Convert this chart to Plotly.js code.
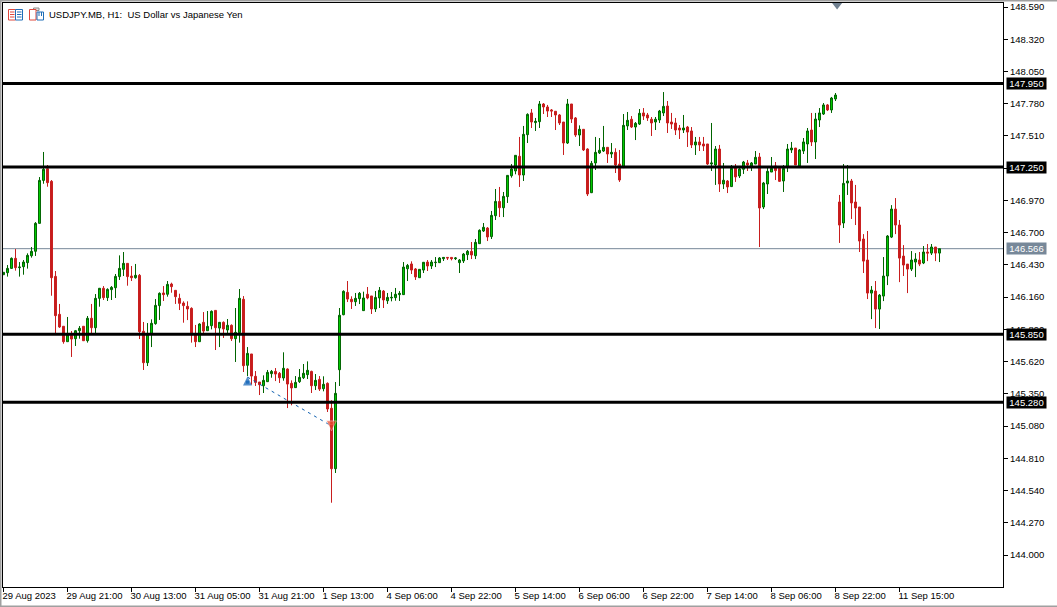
<!DOCTYPE html>
<html><head><meta charset="utf-8">
<script src="https://cdn.plot.ly/plotly-3.0.1.min.js"></script>
<style>html,body{margin:0;padding:0;background:#fff;overflow:hidden}</style>
</head><body><div id="chart" style="width:1057px;height:607px"></div>
<script>
const opens=[146.348,146.365,146.401,146.485,146.407,146.415,146.449,146.507,146.544,146.778,
147.138,147.236,147.130,146.334,146.016,145.916,145.787,145.840,145.812,145.879,
145.916,145.795,145.983,145.904,146.150,146.234,146.156,146.223,146.239,146.332,
146.393,146.443,146.337,146.323,146.343,145.874,145.611,145.851,145.938,146.089,
146.195,146.184,146.270,146.217,146.150,146.111,146.083,146.066,145.843,145.787,
145.949,145.879,145.921,146.049,145.901,145.949,145.885,145.924,145.812,145.862,
146.142,145.589,145.684,145.497,145.449,145.418,145.452,145.519,145.538,145.522,
145.483,145.558,145.438,145.402,145.452,145.485,145.511,145.538,145.418,145.471,
145.393,145.438,145.229,144.723,145.552,146.013,146.200,146.142,146.122,146.147,
146.047,146.184,146.170,146.061,146.153,146.211,146.130,146.153,146.156,146.181,
146.181,146.398,146.438,146.396,146.323,146.387,146.454,146.421,146.449,146.449,
146.482,146.493,146.493,146.482,146.449,146.463,146.516,146.544,146.507,146.608,
146.714,146.739,146.667,146.842,146.962,146.909,147.002,147.177,147.217,147.340,
147.183,147.521,147.703,147.622,147.630,147.778,147.753,147.728,147.717,147.686,
147.627,147.451,147.778,147.661,147.518,147.566,147.401,147.035,147.284,147.368,
147.384,147.415,147.359,147.373,147.275,147.245,147.594,147.650,147.585,147.610,
147.703,147.686,147.650,147.627,147.644,147.703,147.761,147.627,147.619,147.577,
147.560,147.585,147.552,147.435,147.460,147.443,147.443,147.275,147.267,147.401,
147.108,147.133,147.086,147.247,147.175,147.231,147.284,147.259,147.275,147.334,
146.915,147.108,147.208,147.259,147.239,147.133,147.247,147.393,147.409,147.259,
147.384,147.443,147.560,147.460,147.644,147.694,147.770,147.728,147.820,146.957,
146.781,147.116,147.133,146.957,146.915,146.647,146.471,146.194,146.211,146.060,
146.169,146.337,146.663,146.898,146.764,146.504,146.437,146.395,146.454,146.471,
146.446,146.538,146.529,146.580,146.529];
const highs=[146.368,146.429,146.493,146.563,146.454,146.471,146.527,146.580,146.789,147.166,
147.376,147.267,147.141,146.379,146.103,145.916,145.994,145.876,145.885,145.918,
145.916,146.002,146.103,146.186,146.237,146.253,146.234,146.253,146.354,146.510,
146.538,146.443,146.421,146.438,146.354,145.952,145.943,145.974,146.144,146.200,
146.253,146.295,146.281,146.217,146.189,146.125,146.125,146.075,145.927,145.941,
146.035,146.044,146.049,146.049,145.952,145.957,145.977,145.932,146.069,146.228,
146.169,145.742,145.684,145.541,145.449,145.505,145.550,145.550,145.566,145.533,
145.698,145.564,145.463,145.499,145.558,145.600,145.622,145.544,145.516,145.499,
145.497,145.446,145.296,145.449,146.069,146.217,146.295,146.167,146.195,146.203,
146.206,146.245,146.170,146.211,146.245,146.220,146.195,146.203,146.237,146.211,
146.454,146.438,146.460,146.404,146.393,146.454,146.471,146.471,146.496,146.496,
146.496,146.493,146.493,146.496,146.479,146.530,146.555,146.622,146.647,146.728,
146.781,146.747,146.882,147.066,147.083,147.041,147.183,147.275,147.348,147.502,
147.594,147.700,147.736,147.661,147.803,147.786,147.770,147.736,147.719,147.694,
147.627,147.820,147.778,147.669,147.599,147.566,147.407,147.301,147.502,147.493,
147.594,147.415,147.451,147.407,147.393,147.694,147.711,147.677,147.627,147.736,
147.744,147.703,147.669,147.669,147.728,147.878,147.803,147.703,147.661,147.602,
147.686,147.594,147.585,147.502,147.502,147.502,147.443,147.619,147.426,147.435,
147.284,147.141,147.267,147.275,147.259,147.301,147.309,147.292,147.384,147.368,
147.125,147.247,147.334,147.292,147.239,147.267,147.443,147.460,147.409,147.401,
147.493,147.577,147.703,147.703,147.744,147.786,147.778,147.837,147.870,147.016,
147.275,147.267,147.150,147.100,146.915,146.688,146.714,146.253,146.295,146.186,
146.496,146.680,146.931,146.990,146.806,146.596,146.437,146.546,146.529,146.538,
146.588,146.605,146.605,146.580,146.566];
const lows=[146.348,146.332,146.399,146.382,146.332,146.348,146.399,146.491,146.505,146.778,
147.110,147.085,146.172,145.857,145.902,145.770,145.787,145.659,145.751,145.812,
145.795,145.779,145.857,145.857,146.080,146.136,146.128,146.136,146.153,146.304,
146.337,146.256,146.295,146.315,145.809,145.550,145.583,145.742,145.929,145.969,
146.128,146.164,146.197,146.103,146.052,145.946,145.968,145.779,145.742,145.787,
145.843,145.879,145.890,145.717,145.742,145.818,145.843,145.793,145.617,145.779,
145.533,145.499,145.427,145.416,145.340,145.357,145.449,145.485,145.457,145.441,
145.460,145.231,145.254,145.399,145.441,145.474,145.474,145.357,145.382,145.374,
145.371,145.198,144.438,144.687,145.416,146.008,146.119,146.061,146.086,146.102,
146.047,146.142,146.019,146.036,146.069,146.069,146.103,146.125,146.130,146.128,
146.178,146.295,146.354,146.304,146.323,146.362,146.379,146.396,146.412,146.446,
146.463,146.471,146.468,146.471,146.362,146.446,146.471,146.479,146.479,146.608,
146.706,146.630,146.647,146.806,146.831,146.831,146.949,147.161,147.189,147.083,
147.133,147.451,147.577,147.552,147.577,147.694,147.669,147.669,147.560,147.602,
147.351,147.443,147.619,147.502,147.426,147.384,147.007,147.032,147.225,147.359,
147.376,147.284,147.326,147.200,147.125,147.245,147.560,147.577,147.476,147.602,
147.644,147.636,147.510,147.560,147.619,147.677,147.535,147.569,147.518,147.485,
147.535,147.418,147.409,147.351,147.384,147.384,147.267,147.217,147.100,147.041,
147.066,147.032,147.083,147.125,147.158,147.192,147.217,147.217,147.275,146.580,
146.898,147.024,147.208,147.141,147.125,147.041,147.208,147.368,147.267,147.259,
147.359,147.284,147.426,147.317,147.585,147.686,147.719,147.703,147.803,146.614,
146.739,147.016,146.815,146.764,146.538,146.362,146.144,145.976,145.901,145.893,
146.127,146.261,146.655,146.688,146.286,146.337,146.194,146.379,146.328,146.420,
146.437,146.462,146.513,146.462,146.454];
const closes=[146.368,146.401,146.485,146.407,146.412,146.454,146.510,146.544,146.778,147.138,
147.231,147.119,146.323,146.005,145.910,145.787,145.846,145.809,145.879,145.899,
145.795,145.983,145.904,146.150,146.234,146.156,146.225,146.242,146.334,146.401,
146.443,146.332,146.323,146.343,145.871,145.611,145.851,145.941,146.091,146.192,
146.181,146.267,146.248,146.164,146.108,146.089,146.061,145.843,145.787,145.935,
145.876,145.915,146.041,145.904,145.949,145.893,145.924,145.812,145.865,146.150,
145.586,145.689,145.499,145.446,145.427,145.463,145.530,145.538,145.516,145.485,
145.564,145.432,145.399,145.446,145.488,145.522,145.547,145.418,145.463,145.390,
145.430,145.223,144.723,145.354,146.008,146.209,146.144,146.122,146.150,146.192,
146.153,146.153,146.061,146.158,146.217,146.136,146.158,146.158,146.184,146.192,
146.412,146.426,146.387,146.329,146.393,146.452,146.421,146.454,146.452,146.488,
146.493,146.488,146.482,146.488,146.471,146.521,146.544,146.513,146.619,146.720,
146.745,146.664,146.845,146.962,146.909,147.004,147.180,147.233,147.348,147.183,
147.524,147.691,147.627,147.633,147.778,147.753,147.719,147.719,147.686,147.619,
147.451,147.778,147.652,147.518,147.566,147.393,147.024,147.281,147.373,147.390,
147.415,147.359,147.373,147.267,147.141,147.599,147.641,147.585,147.616,147.700,
147.677,147.661,147.619,147.650,147.719,147.758,147.619,147.610,147.560,147.560,
147.577,147.543,147.435,147.460,147.435,147.426,147.275,147.284,147.401,147.108,
147.139,147.083,147.239,147.167,147.234,147.292,147.267,147.284,147.331,146.907,
147.116,147.214,147.239,147.220,147.130,147.239,147.401,147.409,147.267,147.393,
147.460,147.552,147.460,147.652,147.703,147.770,147.728,147.828,147.853,146.764,
147.113,147.133,146.949,146.907,146.630,146.462,146.194,146.219,146.060,146.177,
146.337,146.672,146.898,146.764,146.487,146.429,146.395,146.471,146.479,146.437,
146.538,146.529,146.580,146.529,146.566];

const priceTicks=[148.59,148.32,148.05,147.78,147.51,147.24,146.97,146.70,146.43,146.16,145.89,145.62,145.35,145.08,144.81,144.54,144.27,144.00];
const hiddenPriceTick=147.24;
const timeTickIndex=[0,16,32,48,64,80,96,112,128,144,160,176,192,208,224];
const timeTickLabels=["29 Aug 2023","29 Aug 21:00","30 Aug 13:00","31 Aug 05:00","31 Aug 21:00","1 Sep 13:00","4 Sep 06:00","4 Sep 22:00","5 Sep 14:00","6 Sep 06:00","6 Sep 22:00","7 Sep 14:00","8 Sep 06:00","8 Sep 22:00","11 Sep 15:00"];
const levels=[147.95,147.25,145.85,145.28];
const lastPrice=146.566;
const tradeIndex=[61,82];
const tradePrice=[145.49,145.081];
const buyMark={i:61,tip:145.495,stem:145.448};
const sellMark={i:82,tip:145.04,stem:145.105};
const shiftMark={i:208.4,p:148.607};

const F='"Liberation Sans",Arial,sans-serif';
const FS=9.5;
const W=1057,H=607,L=3,R=1003,T=3,B=587;
const px=x=>(x-L)/(R-L), py=y=>(B-y)/(B-T);
const xs=opens.map((_,i)=>i);

function rect(x0,y0,x1,y1,line,fill,w){return {type:'rect',xref:'paper',yref:'paper',x0:px(x0),x1:px(x1),y0:py(y0),y1:py(y1),line:{color:line,width:w===undefined?1:w},fillcolor:fill||'rgba(0,0,0,0)'};}
function seg(x0,y0,x1,y1,c){return {type:'line',xref:'paper',yref:'paper',x0:px(x0),x1:px(x1),y0:py(y0),y1:py(y1),line:{color:c,width:1}};}

const shapes=[];
shapes.push({type:'line',xref:'paper',yref:'y',x0:0,x1:1,y0:lastPrice,y1:lastPrice,layer:'below',line:{color:'#778899',width:1}});
levels.forEach(v=>shapes.push({type:'line',xref:'paper',yref:'y',x0:0,x1:1,y0:v,y1:v,line:{color:'#000',width:3}}));
// window edges
shapes.push(rect(0,0,W,1.5,'#a0a0a0','#a0a0a0',0),rect(0,0,1.5,H,'#a0a0a0','#a0a0a0',0),rect(0,605.5,W,H,'#a0a0a0','#a0a0a0',0));
// toolbar icons
const RD='#e0483c',BL='#1f6fb8';
shapes.push(rect(8.5,9.5,15.5,20,RD,'#fff'),rect(15.5,9.5,22.5,20,BL,'#fff'));
[12,14.5,17].forEach(y=>shapes.push(seg(10,y,14.5,y,RD),seg(17,y,21.5,y,BL)));
shapes.push(rect(33.5,8,39,10.5,'#8a8a8a','#e4e4e4'),rect(29.5,9.5,36,20,RD,'#fff'),rect(37,12,43.5,20,BL,'#fff'),seg(39,12,39,16,BL),seg(41.5,12,41.5,16,BL));

const ann=[];
ann.push({xref:'paper',yref:'paper',x:px(47),y:py(14.5),xanchor:'left',yanchor:'middle',showarrow:false,
  text:'USDJPY.MB, H1:  US Dollar vs Japanese Yen',font:{family:F,size:FS,color:'#000'}});
function tag(v,bg){ann.push({xref:'paper',yref:'y',x:px(1006),y:v,xanchor:'left',yanchor:'middle',showarrow:false,
  text:v.toFixed(3),bgcolor:bg,borderpad:0,width:39,height:11,align:'center',font:{family:F,size:FS,color:'#fff'}});}
levels.forEach(v=>tag(v,'#000'));
tag(lastPrice,'#778899');

const candle={type:'candlestick',x:xs,open:opens,high:highs,low:lows,close:closes,
  increasing:{line:{color:'#006400',width:1},fillcolor:'#00d000'},
  decreasing:{line:{color:'#c81e1e',width:1},fillcolor:'#c81e1e'},
  whiskerwidth:0,hoverinfo:'skip',showlegend:false};
const tradeLine={type:'scatter',mode:'lines',x:tradeIndex,y:tradePrice,line:{color:'#1060b0',width:1,dash:'3px 4px'},hoverinfo:'skip',showlegend:false};
const buy={type:'scatter',mode:'markers',x:[buyMark.i,buyMark.i],y:[buyMark.stem,buyMark.tip],marker:{symbol:['square','arrow-up'],size:[3,9],color:'#0b5fb5',line:{width:0}},hoverinfo:'skip',showlegend:false};
const sell={type:'scatter',mode:'markers',x:[sellMark.i,sellMark.i],y:[sellMark.stem,sellMark.tip],marker:{symbol:['square','arrow-down'],size:[3,10],color:'#e8452a',line:{color:'#fff',width:0.5}},hoverinfo:'skip',showlegend:false};
const shift={type:'scatter',mode:'markers',cliponaxis:false,x:[shiftMark.i],y:[shiftMark.p],marker:{symbol:'triangle-down',size:9,color:'#708090'},hoverinfo:'skip',showlegend:false};

Plotly.newPlot('chart',[candle,tradeLine,buy,sell,shift],{
  width:W,height:H,autosize:false,showlegend:false,hovermode:false,dragmode:false,
  margin:{l:L,r:W-R,t:T,b:H-B,pad:0},
  paper_bgcolor:'#fff',plot_bgcolor:'#fff',boxmode:'overlay',boxgap:0.3,
  xaxis:{type:'linear',range:[-0.125,249.875],rangeslider:{visible:false},showgrid:false,zeroline:false,
    showline:true,mirror:true,linecolor:'#000',linewidth:1,ticks:'outside',ticklen:4,tickcolor:'#000',
    tickmode:'array',tickvals:timeTickIndex,ticktext:timeTickLabels,ticklabelposition:'outside right',ticklabelshift:-2,
    tickangle:0,tickfont:{family:F,size:FS,color:'#000'}},
  yaxis:{type:'linear',side:'right',range:[143.732,148.624],showgrid:false,zeroline:false,
    showline:true,mirror:true,linecolor:'#000',linewidth:1,ticks:'outside',ticklen:4,tickcolor:'#000',
    tickmode:'array',tickvals:priceTicks,ticktext:priceTicks.map(v=>v===hiddenPriceTick?'':v.toFixed(3)),
    tickfont:{family:F,size:FS,color:'#000'}},
  shapes:shapes,annotations:ann
},{displayModeBar:false,staticPlot:true});
</script></body></html>
